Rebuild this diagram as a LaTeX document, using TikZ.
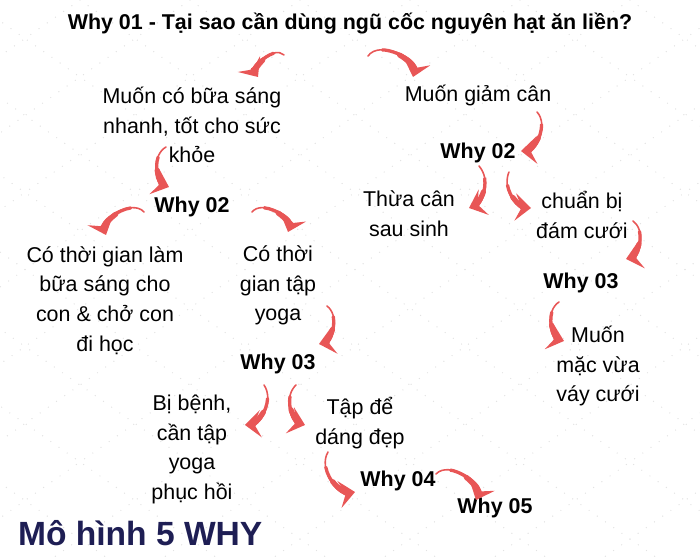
\documentclass[tikz,border=0pt]{standalone}
\usepackage{fontspec}
\setmainfont{Liberation Sans}
\usetikzlibrary{arrows.meta,calc}
\definecolor{arrowred}{RGB}{232,86,86}
\definecolor{navy}{RGB}{30,30,84}
\tikzset{
  txt/.style={align=center,font=\fontsize{15}{20.7}\selectfont},
  why/.style={font=\fontsize{15}{20.7}\selectfont\bfseries},
  cthin/.style={arrowred,line width=1.1pt,shorten >=6pt},
  cmid/.style={arrowred,line width=2.3pt,shorten >=6pt},
  carrow/.style={arrowred,line width=3.6pt,-{Stealth[length=11pt,width=19pt,inset=4.5pt]}},
}
\begin{document}
\begin{tikzpicture}[x=0.7pt,y=-0.7pt,line join=round,line cap=round]
  \useasboundingbox (0,0) rectangle (700,560);
  % dotted lattice in the background
  \begin{scope}
    \clip (0,0) rectangle (700,560);
    \foreach \s in {-800,-690,...,1500}{
      \draw[gray!22,line width=1pt,dash pattern=on 0pt off 7pt] (\s,0)--(\s+800,560);
      \draw[gray!22,line width=1pt,dash pattern=on 0pt off 7pt] (\s,0)--(\s-800,560);
    }
  \end{scope}
  \node[why] (why1) at (350,23.5) {Why 01 - Tại sao cần dùng ngũ cốc nguyên hạt ăn liền?};
  \node[txt] (sang) at (192,125) {Muốn có bữa sáng\\nhanh, tốt cho sức\\khỏe};
  \node[txt] (giam) at (478,95) {Muốn giảm cân};
  \node[why] (whyL2) at (192,207) {Why 02};
  \node[why] (whyR2) at (478,153) {Why 02};
  \node[txt] (thua) at (409,214) {Thừa cân\\sau sinh};
  \node[txt] (cuoi) at (582,215) {chuẩn bị\\đám cưới};
  \node[why] (whyR3) at (581,283) {Why 03};
  \node[txt] (vay) at (598,366) {Muốn\\mặc vừa\\váy cưới};
  \node[txt] (con) at (105,300.5) {Có thời gian làm\\bữa sáng cho\\con \& chở con\\đi học};
  \node[txt] (yoga) at (278,285.5) {Có thời\\gian tập\\yoga};
  \node[why] (whyL3) at (278,364) {Why 03};
  \node[txt] (benh) at (192,449.5) {Bị bệnh,\\cần tập\\yoga\\phục hồi};
  \node[txt] (dang) at (360,423) {Tập để\\dáng đẹp};
  \node[why] (why4) at (398,481) {Why 04};
  \node[why] (why5) at (495,508) {Why 05};
  \node[anchor=west,navy,font=\fontsize{23.5}{28}\selectfont\bfseries] (model) at (13,533) {Mô hình 5 WHY};
  % curved arrows: tail t<n>, head h<n>
  \foreach \n/\xa/\ya/\xb/\yb in {1/284/55/258/77,2/368/56/413/77,3/537/112/521/151,
    4/479/166/469/208,5/509/172/531/208,6/633/221/626/259,7/559/302/564/341,
    8/166/147/169/187,9/144/212/106/235,10/252/212/288/232,11/327/306/319/344,
    12/264/385/245/425,13/296/385/305/425,14/328/452/355/492,15/436/474/476/500}
    {\coordinate (t\n) at (\xa,\ya); \coordinate (h\n) at (\xb,\yb);}
  % tapered: thin whole curve, thicker tail parts cut from the same curve
  \foreach \n/\a/\b in {1/-85/85,2/80/-80,3/65/-65,4/55/-55,5/-55/55,6/65/-65,
    7/-65/65,8/-65/65,9/-80/80,10/80/-80,11/65/-65,12/60/-60,13/-60/60,
    14/-65/65,15/80/-80}{
    \coordinate (ca) at ($(t\n)!0.3915!\a:(h\n)$);
    \coordinate (cb) at ($(h\n)!0.3915!\b:(t\n)$);
    \draw[cthin] (t\n) .. controls (ca) and (cb) .. (h\n);
    \foreach \u/\st in {0.28/cmid,0.55/carrow}{
      \coordinate (q1) at ($(t\n)!\u!(ca)$);
      \coordinate (q2) at ($(ca)!\u!(cb)$);
      \coordinate (q3) at ($(cb)!\u!(h\n)$);
      \coordinate (q4) at ($(q1)!\u!(q2)$);
      \coordinate (q5) at ($(q2)!\u!(q3)$);
      \coordinate (q6) at ($(q4)!\u!(q5)$);
      \draw[\st] (q6) .. controls (q5) and (q3) .. (h\n);
    }
  }
\end{tikzpicture}
\end{document}
